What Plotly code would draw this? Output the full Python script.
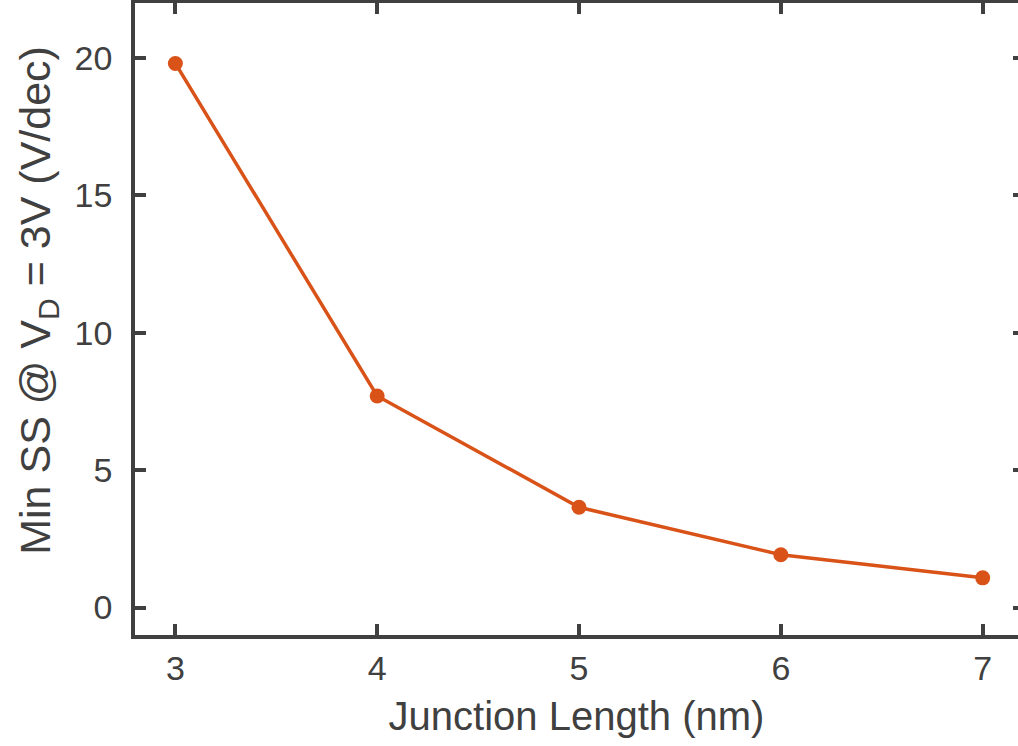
import plotly.graph_objects as go

junction_length = [3, 4, 5, 6, 7]
min_ss = [19.8, 7.7, 3.65, 1.92, 1.08]
y_ticks = [0, 5, 10, 15, 20]
x_ticks = [3, 4, 5, 6, 7]

axis_color = "#404040"
line_color = "#D95319"
font_family = "Liberation Sans, Arial, Helvetica, sans-serif"

fig = go.Figure()
fig.add_trace(go.Scatter(
    x=junction_length, y=min_ss, mode="lines+markers",
    line=dict(color=line_color, width=3.5),
    marker=dict(color=line_color, size=15),
    showlegend=False,
))
# invisible trace to anchor the right-side tick axis
fig.add_trace(go.Scatter(
    x=junction_length, y=min_ss, mode="lines", yaxis="y2",
    line=dict(width=0), opacity=0, showlegend=False, hoverinfo="skip",
))

fig.update_layout(
    width=1018, height=746,
    margin=dict(l=135, r=0, t=3, b=111),
    plot_bgcolor="white", paper_bgcolor="white",
    font=dict(family=font_family, color=axis_color, size=34),
    xaxis=dict(
        range=[2.8, 7.175], tickvals=x_ticks, ticktext=[str(v) for v in x_ticks],
        showgrid=False, zeroline=False,
        showline=True, linecolor=axis_color, linewidth=3.5, mirror="ticks",
        ticks="inside", ticklen=11, tickwidth=3.5, tickcolor=axis_color,
        tickfont=dict(size=34, color=axis_color),
        title=dict(text="Junction Length (nm)", font=dict(size=40, color=axis_color), standoff=17),
    ),
    yaxis=dict(
        range=[-1, 22], tickvals=y_ticks, ticktext=[str(v) for v in y_ticks],
        showgrid=False, zeroline=False,
        showline=True, linecolor=axis_color, linewidth=3.5, mirror=False,
        ticks="inside", ticklen=11, tickwidth=3.5, tickcolor=axis_color,
        tickfont=dict(size=34, color=axis_color), ticklabelstandoff=12,
    ),
    yaxis2=dict(
        range=[-1, 22], tickvals=y_ticks, overlaying="y", side="right",
        showgrid=False, zeroline=False, showline=False, showticklabels=False,
        ticks="inside", ticklen=5, tickwidth=3.5, tickcolor=axis_color,
    ),
    annotations=[dict(
        text="Min SS @ V<sub>D</sub> = 3V (V/dec)",
        xref="paper", yref="paper", x=-0.143, y=0.530,
        xanchor="left", yanchor="middle", textangle=-90, showarrow=False,
        font=dict(size=43, color=axis_color, family=font_family),
    )],
)

fig.write_html("out.html")
